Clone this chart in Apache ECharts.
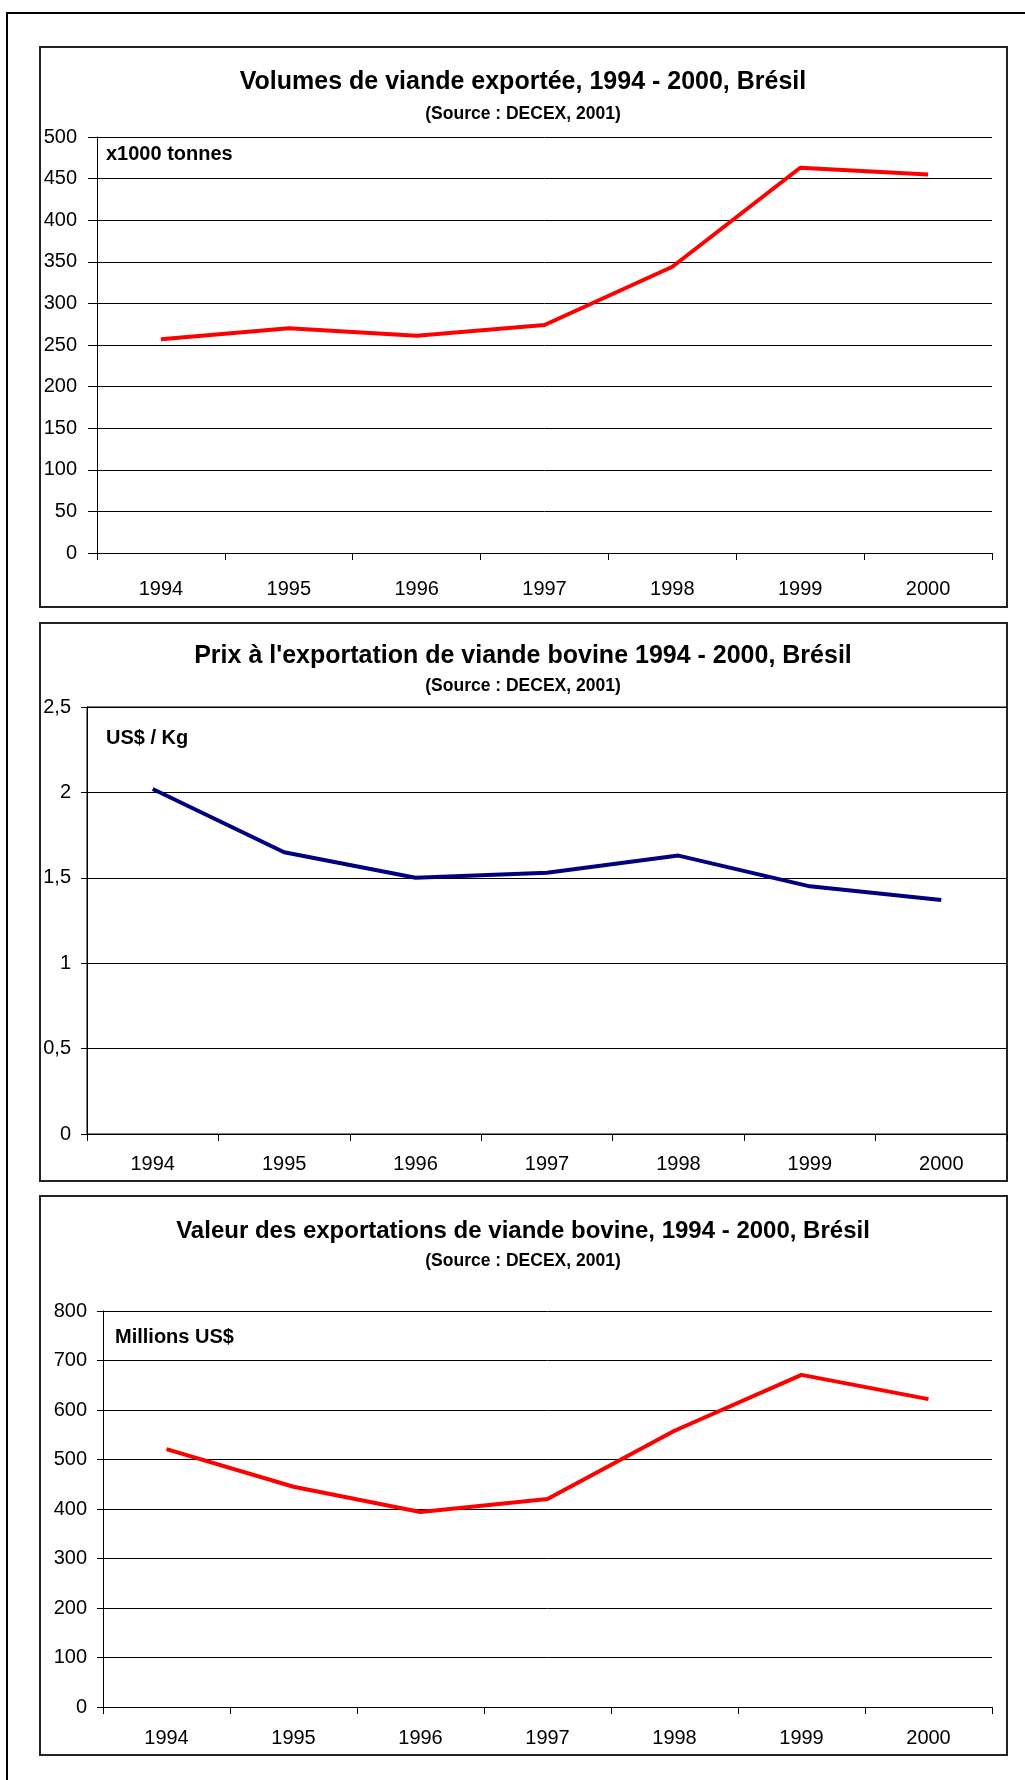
<!DOCTYPE html>
<html>
<head>
<meta charset="utf-8">
<script src="https://cdn.jsdelivr.net/npm/echarts@6/dist/echarts.min.js"></script>
<style>
  html, body { margin: 0; padding: 0; background: #fff; }
  #chart { width: 1025px; height: 1780px; }
</style>
</head>
<body>
<div id="chart"></div>
<script>
// ---- Data ----
var years = ['1994', '1995', '1996', '1997', '1998', '1999', '2000'];
var volumes = [257, 270, 261, 274, 344, 463, 455];        // x1000 tonnes
var prices = [2.02, 1.65, 1.50, 1.53, 1.63, 1.45, 1.37];  // US$ / Kg
var valuesUSD = [521, 445, 394, 420, 558, 671, 622];      // Millions US$

var titles = [
  'Volumes de viande exportée, 1994 - 2000, Brésil',
  "Prix à l'exportation de viande bovine 1994 - 2000, Brésil",
  'Valeur des exportations de viande bovine, 1994 - 2000, Brésil'
];
var subtitle = '(Source : DECEX, 2001)';
var units = ['x1000 tonnes', 'US$ / Kg', 'Millions US$'];

// ---- Layout ----
var FONT = '"Liberation Sans", Arial, sans-serif';
var chart = echarts.init(document.getElementById('chart'), null, { renderer: 'canvas' });

var grids = [
  { left: 97, top: 137, width: 895, height: 416 },
  { left: 87, top: 707, width: 920, height: 427, show: true, borderColor: '#000', borderWidth: 1, backgroundColor: 'transparent' },
  { left: 103, top: 1311, width: 889, height: 396 }
];

function xAxis(i) {
  return {
    type: 'category', gridIndex: i, data: years,
    axisLine: { lineStyle: { color: '#000', width: 1 } },
    axisTick: { show: true, length: 7, lineStyle: { color: '#000' } },
    axisLabel: { color: '#000', fontFamily: FONT, fontSize: 20, margin: [26, 20, 21][i] }
  };
}
function yAxis(i, min, max, interval, fmt, tickLen, margin) {
  return {
    type: 'value', gridIndex: i, min: min, max: max, interval: interval,
    axisLine: { show: true, lineStyle: { color: '#000', width: 1 } },
    axisTick: { show: true, length: tickLen, lineStyle: { color: '#000' } },
    splitLine: { show: true, lineStyle: { color: '#000', width: 1 } },
    axisLabel: { color: '#000', fontFamily: FONT, fontSize: 20, margin: margin, formatter: fmt }
  };
}

var boxes = [[40, 47, 967, 560], [40, 623, 967, 558], [40, 1196, 967, 559]];
var titleY = [[82, 114], [656, 686], [1231, 1261]];
var titleSize = [25, 25, 24];
var unitPos = [[106, 154], [106, 738], [115, 1337]];

var graphics = [
  { type: 'rect', shape: { x: 7, y: 13, width: 1040, height: 1800 }, style: { fill: 'none', stroke: '#000', lineWidth: 2 }, z: 0 }
];
boxes.forEach(function (b) {
  graphics.push({ type: 'rect', shape: { x: b[0], y: b[1], width: b[2], height: b[3] },
    style: { fill: 'none', stroke: '#222', lineWidth: 2 }, z: 0 });
});
for (var i = 0; i < 3; i++) {
  graphics.push({ type: 'text', x: 523, y: titleY[i][0],
    style: { text: titles[i], align: 'center', verticalAlign: 'middle', font: 'bold ' + titleSize[i] + 'px ' + FONT, fill: '#000' } });
  graphics.push({ type: 'text', x: 523, y: titleY[i][1],
    style: { text: subtitle, align: 'center', verticalAlign: 'middle', font: 'bold 17.5px ' + FONT, fill: '#000' } });
  graphics.push({ type: 'text', x: unitPos[i][0], y: unitPos[i][1],
    style: { text: units[i], align: 'left', verticalAlign: 'middle', font: 'bold 20px ' + FONT, fill: '#000' } });
}

var option = {
  animation: false,
  backgroundColor: '#fff',
  grid: grids,
  xAxis: [xAxis(0), xAxis(1), xAxis(2)],
  yAxis: [
    yAxis(0, 0, 500, 50, null, 9, 20),
    yAxis(1, 0, 2.5, 0.5, function (v) { return String(v).replace('.', ','); }, 6, 16),
    yAxis(2, 0, 800, 100, null, 6, 16)
  ],
  series: [
    { type: 'line', xAxisIndex: 0, yAxisIndex: 0, data: volumes, showSymbol: false, symbol: 'none',
      lineStyle: { color: '#ff0000', width: 4 }, z: 5 },
    { type: 'line', xAxisIndex: 1, yAxisIndex: 1, data: prices, showSymbol: false, symbol: 'none',
      lineStyle: { color: '#000080', width: 4 }, z: 5 },
    { type: 'line', xAxisIndex: 2, yAxisIndex: 2, data: valuesUSD, showSymbol: false, symbol: 'none',
      lineStyle: { color: '#ff0000', width: 4 }, z: 5 }
  ],
  graphic: graphics
};
chart.setOption(option);
</script>
</body>
</html>
